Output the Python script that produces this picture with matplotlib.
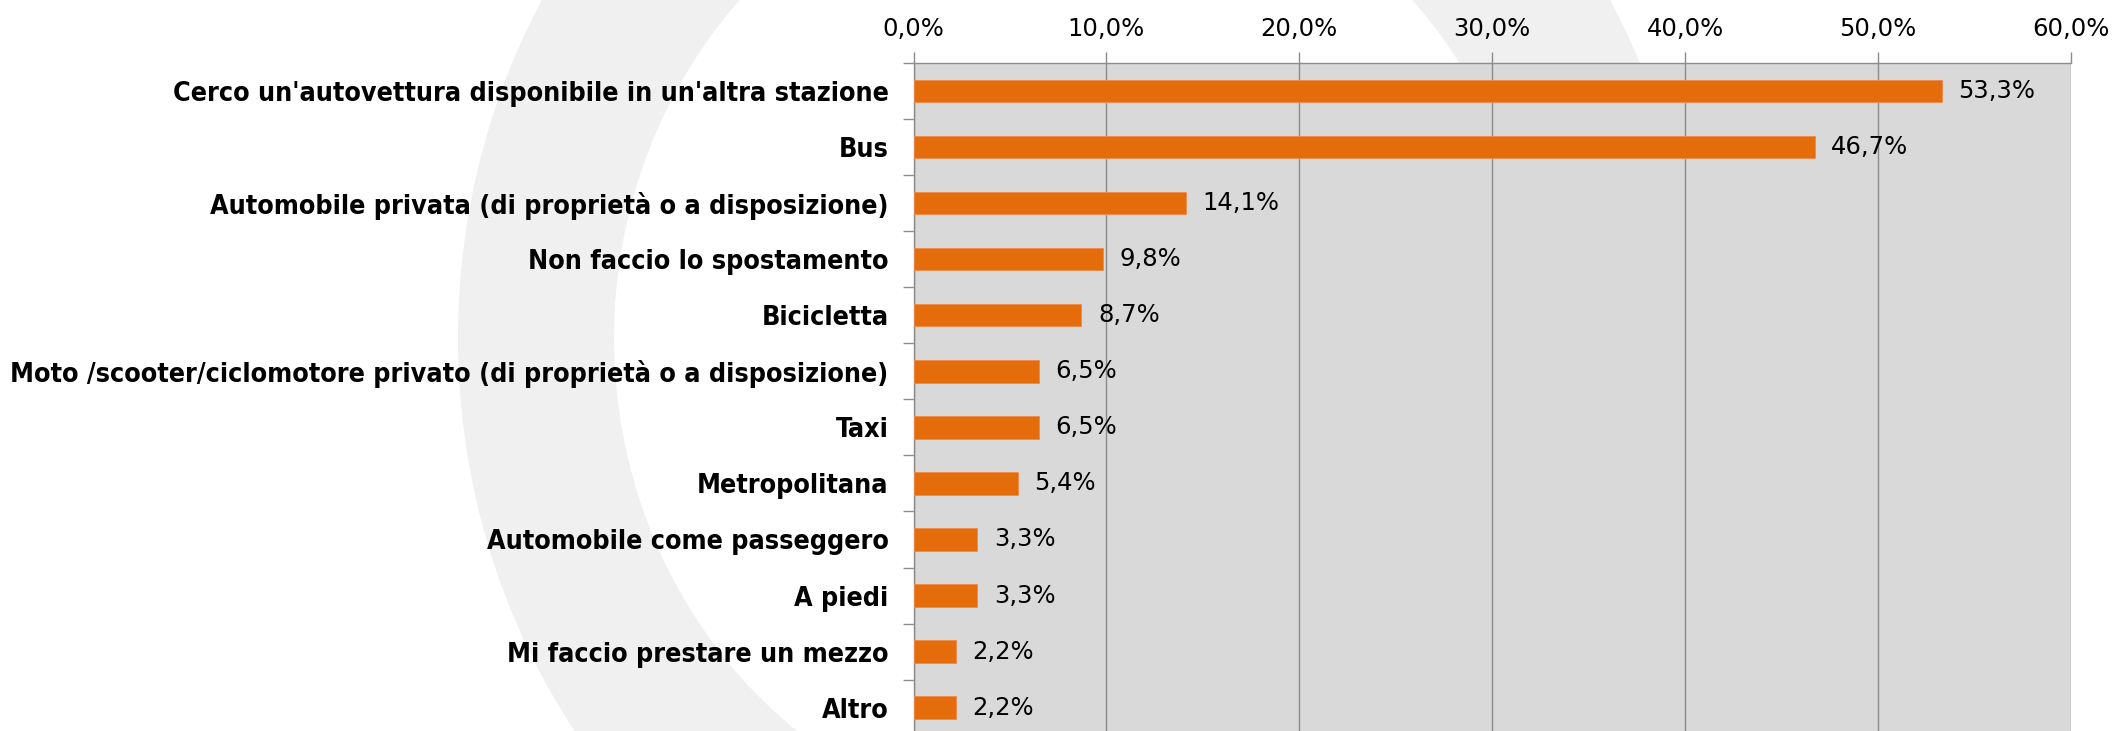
import matplotlib
matplotlib.use("Agg")
import matplotlib.pyplot as plt
from matplotlib.patches import Ellipse
import numpy as np

# === Dati ===
categorie = [
    "Cerco un'autovettura disponibile in un'altra stazione",
    "Bus",
    "Automobile privata (di proprietà o a disposizione)",
    "Non faccio lo spostamento",
    "Bicicletta",
    "Moto /scooter/ciclomotore privato (di proprietà o a disposizione)",
    "Taxi",
    "Metropolitana",
    "Automobile come passeggero",
    "A piedi",
    "Mi faccio prestare un mezzo",
    "Altro",
]
valori = [53.3, 46.7, 14.1, 9.8, 8.7, 6.5, 6.5, 5.4, 3.3, 3.3, 2.2, 2.2]
tick_x = [0, 10, 20, 30, 40, 50, 60]

ARANCIO = "#E46C0A"
GRIGIO_BG = "#D9D9D9"
GRIGIO_LINEE = "#8C8C8C"
FONT = "DejaVu Sans"

fig = plt.figure(figsize=(21.19, 7.31), dpi=100)

# === Logo in filigrana (sfondo) ===
bg = fig.add_axes([0, 0, 1, 1], zorder=-1)
bg.set_xlim(0, 2119)
bg.set_ylim(731, 0)
bg.axis("off")
bg.add_patch(Ellipse((1076, 338), 2 * 618, 2 * 672, facecolor="#F0F0F0", edgecolor="none"))
bg.add_patch(Ellipse((1076, 338), 2 * 462, 2 * 493, facecolor="white", edgecolor="none"))

# === Grafico a barre ===
ax = fig.add_axes([0.4311, -0.0064, 0.5463, 0.9202])
ax.set_facecolor(GRIGIO_BG)
y = np.arange(len(categorie))
barre = ax.barh(y, valori, height=0.4, color=ARANCIO, edgecolor="#EE8A4A", linewidth=0.6, zorder=3)

ax.set_xlim(0, 60)
ax.set_ylim(len(categorie) - 0.5, -0.5)

ax.xaxis.tick_top()
ax.set_xticks(tick_x)
ax.set_xticklabels([f"{t:.1f}%".replace(".", ",") for t in tick_x],
                   fontsize=17.5, fontfamily=FONT)
ax.tick_params(axis="x", which="major", length=8, width=1, color=GRIGIO_LINEE, pad=8)

ax.set_yticks(y)
ax.set_yticklabels(categorie, fontsize=19.3, fontweight="bold",
                   fontfamily=FONT, fontstretch="condensed")
ax.tick_params(axis="y", which="major", length=0, pad=18)
ax.set_yticks(np.arange(-0.5, len(categorie), 1), minor=True)
ax.tick_params(axis="y", which="minor", length=8, width=1, color=GRIGIO_LINEE)

ax.grid(axis="x", color=GRIGIO_LINEE, linewidth=1)
ax.set_axisbelow(True)
for lato in ["left", "top"]:
    ax.spines[lato].set_color(GRIGIO_LINEE)
    ax.spines[lato].set_linewidth(1)
ax.spines["right"].set_visible(False)
ax.spines["bottom"].set_visible(False)

ax.bar_label(barre, labels=[f"{v:.1f}%".replace(".", ",") for v in valori],
             padding=12, fontsize=17.5, fontfamily=FONT)

fig.savefig("out.png", dpi=100)
